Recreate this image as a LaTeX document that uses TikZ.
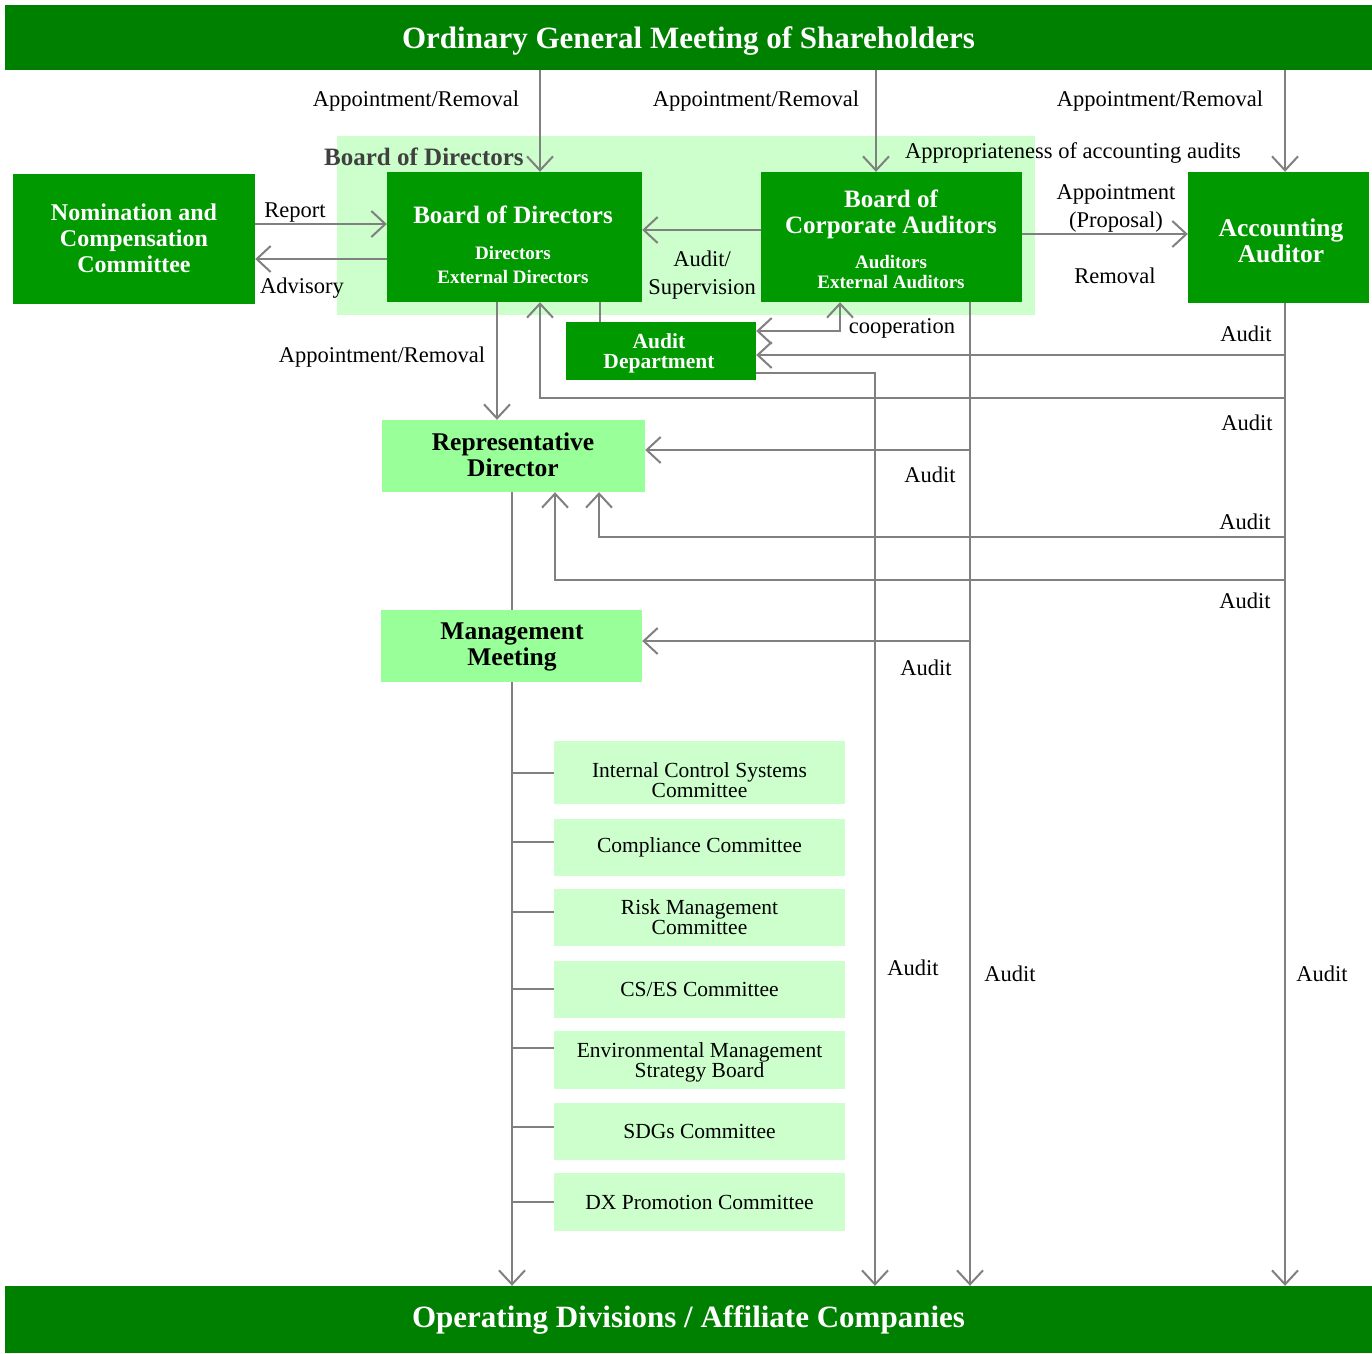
\documentclass[tikz,border=0pt]{standalone}
\usepackage{fontspec}
\setmainfont{Liberation Serif}
\usetikzlibrary{arrows.meta}
\definecolor{dkgreen}{HTML}{008000}
\definecolor{mdgreen}{HTML}{009900}
\definecolor{ltgreen}{HTML}{CCFFCC}
\definecolor{lmgreen}{HTML}{99FF99}
\definecolor{lgray}{HTML}{808080}
\definecolor{lblgray}{HTML}{404040}
\begin{document}
\begin{tikzpicture}[x=1pt,y=-1pt,
  box/.style={rectangle, inner sep=0pt, draw=none},
  banner/.style={box, fill=dkgreen, text=white, font=\bfseries\fontsize{31}{32}\selectfont},
  gbox/.style={box, fill=mdgreen},
  rbox/.style={box, fill=lmgreen},
  cbox/.style={box, fill=ltgreen, minimum width=291pt, align=center, font=\fontsize{21.5}{20}\selectfont},
  ctxt/.style={inner sep=0pt, align=center, font=\fontsize{21.5}{20}\selectfont},
  wtxt/.style={inner sep=0pt, text=white, align=center},
  btxt/.style={inner sep=0pt, text=black, align=center, font=\bfseries\fontsize{25.5}{26}\selectfont},
  lbl/.style={inner sep=0pt, anchor=base, align=center, font=\fontsize{22.5}{28}\selectfont},
  conn/.style={draw=lgray, line width=2pt},
  arr/.style={conn, -{Straight Barb[length=14pt,width=26pt]}},
  darr/.style={conn, {Straight Barb[length=14pt,width=26pt]}-{Straight Barb[length=14pt,width=26pt]}}
]
\useasboundingbox (0,0) rectangle (1372,1353);
\fill[white] (0,0) rectangle (1372,1353);

% background region
\node[box, fill=ltgreen, minimum width=698pt, minimum height=179pt] (region) at (686,225.5) {};
\node[inner sep=0pt, anchor=west, text=lblgray, font=\bfseries\fontsize{25}{26}\selectfont] (regionlbl) at (324,157) {Board of Directors};

% banners
\node[banner, minimum width=1367pt, minimum height=65pt, text depth=0pt] (top) at (688.5,37.5) {Ordinary General Meeting of Shareholders};
\node[banner, minimum width=1367pt, minimum height=67pt] (bot) at (688.5,1319.5) {Operating Divisions / Affiliate Companies};

% main boxes
\node[gbox, minimum width=242pt, minimum height=130pt] (ncc) at (134,239) {};
\node[wtxt, font=\bfseries\fontsize{24}{26}\selectfont] (ncct) at (134,238) {Nomination and\\Compensation\\Committee};

\node[gbox, minimum width=255pt, minimum height=130pt] (bod) at (514.5,237) {};
\node[wtxt, font=\bfseries\fontsize{19}{24}\selectfont] (bodt) at (513,244.5) {{\fontsize{25}{26}\selectfont Board of Directors}\\[12pt]Directors\\External Directors};

\node[gbox, minimum width=261pt, minimum height=130pt] (bca) at (891.5,237) {};
\node[wtxt, font=\bfseries\fontsize{19}{20}\selectfont] (bcat) at (891,239) {{\fontsize{25}{26}\selectfont Board of}\\[6pt]{\fontsize{25}{26}\selectfont Corporate Auditors}\\[15pt]Auditors\\External Auditors};

\node[gbox, minimum width=181pt, minimum height=131pt] (aa) at (1278.5,237.5) {};
\node[wtxt, font=\bfseries\fontsize{25.5}{26}\selectfont] (aat) at (1281,241) {Accounting\\Auditor};

\node[gbox, minimum width=190pt, minimum height=58pt] (adept) at (661,351) {};
\node[wtxt, font=\bfseries\fontsize{21.5}{20}\selectfont] (adeptt) at (659,353) {Audit\\Department};

\node[rbox, minimum width=263pt, minimum height=72pt] (rep) at (513.5,456) {};
\node[btxt] (rept) at (513,455) {Representative\\Director};

\node[rbox, minimum width=261pt, minimum height=72pt] (mm) at (511.5,646) {};
\node[btxt] (mmt) at (512,647) {Management\\Meeting};

% committees
\node[cbox, minimum height=63pt] (c1) at (699.5,772.5) {};
\node[ctxt] (c1t) at (699.5,780) {Internal Control Systems\\Committee};
\node[cbox, minimum height=57pt] (c2) at (699.5,847.5) {Compliance Committee};
\node[cbox, minimum height=57pt] (c3) at (699.5,917.5) {Risk Management\\Committee};
\node[cbox, minimum height=57pt] (c4) at (699.5,989.5) {CS/ES Committee};
\node[cbox, minimum height=58pt] (c5) at (699.5,1060) {};
\node[ctxt] (c5t) at (699.5,1062) {Environmental Management\\Strategy Board};
\node[cbox, minimum height=57pt] (c6) at (699.5,1131.5) {SDGs Committee};
\node[cbox, minimum height=58pt] (c7) at (699.5,1202) {DX Promotion Committee};

% helper coordinates
\coordinate (xA) at (540,0);
\coordinate (xB) at (876,0);
\coordinate (xC) at (1285,0);
\coordinate (xD) at (497,0);
\coordinate (xE) at (600,0);
\coordinate (xF) at (840,0);
\coordinate (xG) at (970,0);
\coordinate (xH) at (875,0);
\coordinate (xI) at (599,0);
\coordinate (xJ) at (555,0);
\coordinate (xK) at (512,0);
\coordinate (yRep) at (0,224);
\coordinate (yAdv) at (0,259);
\coordinate (yAS) at (0,230);
\coordinate (yAP) at (0,234);
\coordinate (yCoop) at (0,331);
\coordinate (yAD) at (0,355);
\coordinate (yADo) at (0,373);
\coordinate (yBR) at (0,398);
\coordinate (yRD1) at (0,450);
\coordinate (yRD2) at (0,537);
\coordinate (yRD3) at (0,580);
\coordinate (yMM) at (0,641);
\coordinate (t1) at (0,773);
\coordinate (t2) at (0,842);
\coordinate (t3) at (0,912);
\coordinate (t4) at (0,989);
\coordinate (t5) at (0,1048);
\coordinate (t6) at (0,1127);
\coordinate (t7) at (0,1202);

% connectors
\draw[arr] (top.south -| xA) -- (bod.north -| xA);
\draw[arr] (top.south -| xB) -- (bca.north -| xB);
\draw[arr] (top.south -| xC) -- (aa.north -| xC);
\draw[arr] (ncc.east |- yRep) -- (bod.west |- yRep);
\draw[arr] (bod.west |- yAdv) -- (ncc.east |- yAdv);
\draw[arr] (bca.west |- yAS) -- (bod.east |- yAS);
\draw[arr] (bca.east |- yAP) -- (aa.west |- yAP);
\draw[arr] (bod.south -| xD) -- (rep.north -| xD);
\draw[conn] (bod.south -| xE) -- (adept.north -| xE);
\draw[darr] (adept.east |- yCoop) -| (bca.south -| xF);

\draw[arr] (aa.south -| xC) -- (bot.north -| xC);
\draw[arr] (xC |- yAD) -- (adept.east |- yAD);
\draw[arr] (xC |- yBR) -| (bod.south -| xA);
\draw[arr] (xC |- yRD2) -| (rep.south -| xI);
\draw[arr] (xC |- yRD3) -| (rep.south -| xJ);

\draw[arr] (bca.south -| xG) -- (bot.north -| xG);
\draw[arr] (xG |- yRD1) -- (rep.east |- yRD1);
\draw[arr] (xG |- yMM) -- (mm.east |- yMM);

\draw[arr] (adept.east |- yADo) -| (bot.north -| xH);

\draw[conn] (rep.south -| xK) -- (mm.north -| xK);
\draw[arr] (mm.south -| xK) -- (bot.north -| xK);
\draw[conn] (xK |- t1) -- (c1.west |- t1);
\draw[conn] (xK |- t2) -- (c2.west |- t2);
\draw[conn] (xK |- t3) -- (c3.west |- t3);
\draw[conn] (xK |- t4) -- (c4.west |- t4);
\draw[conn] (xK |- t5) -- (c5.west |- t5);
\draw[conn] (xK |- t6) -- (c6.west |- t6);
\draw[conn] (xK |- t7) -- (c7.west |- t7);

% labels
\node[lbl] (l1) at (416,106) {Appointment/Removal};
\node[lbl] (l2) at (756,106) {Appointment/Removal};
\node[lbl] (l3) at (1160,106) {Appointment/Removal};
\node[lbl] (l4) at (1073,158) {Appropriateness of accounting audits};
\node[lbl] (l5) at (295,217) {Report};
\node[lbl] (l6) at (302,293) {Advisory};
\node[lbl] (l7) at (702,266) {Audit/};
\node[lbl] (l8) at (702,294) {Supervision};
\node[lbl] (l9) at (1116,199) {Appointment};
\node[lbl] (l10) at (1116,227) {(Proposal)};
\node[lbl] (l11) at (1115,283) {Removal};
\node[lbl] (l12) at (382,362) {Appointment/Removal};
\node[lbl] (l13) at (902,333) {cooperation};
\node[lbl] (a1) at (1246,341) {Audit};
\node[lbl] (a2) at (1247,430) {Audit};
\node[lbl] (a3) at (930,482) {Audit};
\node[lbl] (a4) at (1245,529) {Audit};
\node[lbl] (a5) at (1245,608) {Audit};
\node[lbl] (a6) at (926,675) {Audit};
\node[lbl] (a7) at (913,975) {Audit};
\node[lbl] (a8) at (1010,981) {Audit};
\node[lbl] (a9) at (1322,981) {Audit};
\end{tikzpicture}
\end{document}
